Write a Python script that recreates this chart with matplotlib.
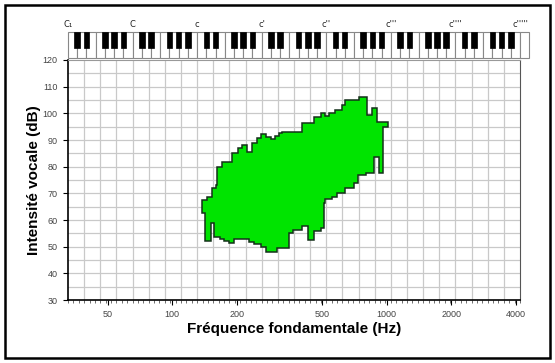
import numpy as np
import matplotlib
matplotlib.use("Agg")
import matplotlib.pyplot as plt
from matplotlib.patches import Rectangle, Polygon
from matplotlib.ticker import FixedLocator, NullFormatter
from matplotlib.transforms import blended_transform_factory

plt.rcParams['font.family'] = ['Liberation Sans', 'DejaVu Sans']

# voice range profile outline (Hz, dB)
freq_hz = [138, 138, 146, 146, 154, 154, 160, 160, 162, 162, 171, 171, 191, 191,
           203, 203, 212, 212, 224, 224, 236, 236, 249, 249, 259, 259, 273, 273,
           288, 288, 301, 301, 315, 315, 326, 326, 404, 404, 458, 458, 492, 492,
           515, 515, 537, 537, 577, 577, 620, 620, 643, 643, 741, 741, 810, 810,
           855, 855, 902, 902, 1014, 1014, 958, 958, 918, 918, 870, 870, 801, 801,
           735, 735, 702, 702, 643, 643, 587, 587, 557, 557, 515, 515, 509, 509,
           492, 492, 458, 458, 431, 431, 404, 404, 365, 365, 350, 350, 309, 309,
           273, 273, 259, 259, 241, 241, 228, 228, 194, 194, 184, 184, 175, 175,
           168, 168, 157, 157, 151, 151, 143, 143]
level_db = [62.5, 67.5, 67.5, 68.7, 68.7, 71.9, 71.9, 73.1, 73.1, 79.8, 79.8, 81.9,
            81.9, 85.0, 85.0, 86.9, 86.9, 88.1, 88.1, 85.6, 85.6, 88.8, 88.8, 90.6,
            90.6, 92.2, 92.2, 91.2, 91.2, 90.3, 90.3, 91.6, 91.6, 92.5, 92.5, 93.1,
            93.1, 96.3, 96.3, 98.7, 98.7, 100.0, 100.0, 99.0, 99.0, 100.2, 100.2,
            101.2, 101.2, 103.1, 103.1, 105.0, 105.0, 106.0, 106.0, 99.4, 99.4,
            101.9, 101.9, 96.9, 96.9, 95.0, 95.0, 77.6, 77.6, 83.7, 83.7, 77.6, 77.6,
            76.9, 76.9, 73.8, 73.8, 71.9, 71.9, 70.2, 70.2, 68.7, 68.7, 67.8, 67.8,
            66.3, 66.3, 56.9, 56.9, 56.0, 56.0, 52.5, 52.5, 57.8, 57.8, 56.2, 56.2,
            55.2, 55.2, 49.4, 49.4, 48.1, 48.1, 49.8, 49.8, 51.0, 51.0, 51.9, 51.9,
            52.8, 52.8, 51.2, 51.2, 52.2, 52.2, 52.8, 52.8, 53.7, 53.7, 58.8, 58.8,
            52.2, 52.2, 62.5]

# keyboard note names (C of each octave) and their frequencies
c_labels = ["C\u2081", "C", "c", "c'", "c''", "c'''", "c''''", "c'''''"]
c_freqs = [32.7, 65.4, 130.8, 261.6, 523.3, 1046.5, 2093.0, 4186.0]

x_ticks = [50, 100, 200, 500, 1000, 2000, 4000]
x_ticklabels = ["50", "100", "200", "500", "1000", "2000", "4000"]
y_ticks = [30, 40, 50, 60, 70, 80, 90, 100, 110, 120]

f0 = c_freqs[0]
n_oct = len(c_freqs) - 1

fig = plt.figure(figsize=(5.55, 3.63), dpi=100)
ax = fig.add_axes([68 / 555, 63 / 363, 452 / 555, 240 / 363])
ax.set_xscale('log')
ax.set_xlim(f0, c_freqs[-1])
ax.set_ylim(30, 120)

# grid: every minor third in x, every 5 dB in y
for k in range(1, 4 * n_oct):
    ax.axvline(f0 * 2 ** (k / 4), color='#c9c9c9', lw=0.9, zorder=0)
for v in range(35, 120, 5):
    ax.axhline(v, color='#c9c9c9', lw=0.9, zorder=0)

ax.add_patch(Polygon(np.column_stack([freq_hz, level_db]), closed=True,
                     facecolor='#00e400', edgecolor='#14301a', lw=1.1, zorder=3))

ax.xaxis.set_major_locator(FixedLocator(x_ticks))
ax.set_xticklabels(x_ticklabels)
ax.xaxis.set_minor_locator(FixedLocator([f0 * 2 ** (k / 12) for k in range(12 * n_oct + 1)]))
ax.xaxis.set_minor_formatter(NullFormatter())
ax.set_yticks(y_ticks)
ax.tick_params(axis='both', which='major', labelsize=6.5, labelcolor='#444444',
               length=3.5, width=0.8, direction='out', pad=4)
ax.tick_params(axis='x', which='minor', length=2, width=0.6, color='#555555')
ax.tick_params(axis='y', which='minor', length=0)

for side in ['left', 'bottom']:
    ax.spines[side].set_linewidth(1.2)
ax.spines['right'].set_color('#555555')
ax.spines['top'].set_color('#999999')
ax.spines['top'].set_linewidth(0.8)

ax.set_xlabel('Fréquence fondamentale (Hz)', fontsize=11, fontweight='bold', labelpad=2)
ax.set_ylabel('Intensité vocale (dB)', fontsize=11, fontweight='bold', labelpad=1)

# piano keyboard above the plot
tr = blended_transform_factory(ax.transData, ax.transAxes)
kb_bot, kb_top, blk_bot = 1.008, 1.118, 1.05
for i in range(7 * n_oct + 1):
    left = f0 * 2 ** (i / 7)
    right = f0 * 2 ** ((i + 1) / 7)
    ax.add_patch(Rectangle((left, kb_bot), right - left, kb_top - kb_bot, transform=tr,
                           facecolor='white', edgecolor='#888888', lw=0.8, clip_on=False))
for o in range(n_oct):
    for j in [1, 2, 4, 5, 6]:
        c = f0 * 2 ** (o + j / 7)
        left = c * 2 ** (-0.3 / 7)
        right = c * 2 ** (0.3 / 7)
        ax.add_patch(Rectangle((left, blk_bot), right - left, kb_top - blk_bot, transform=tr,
                               facecolor='black', edgecolor='black', lw=0.5, clip_on=False,
                               zorder=4))
for lab, f in zip(c_labels, c_freqs):
    ax.text(f, kb_top + 0.01, lab, transform=tr, fontsize=6, ha='center', va='bottom',
            color='#222222', family=['DejaVu Sans'])

# frame around the figure
fig.patches.append(Rectangle((5 / 555, 5 / 363), 545 / 555, 353 / 363, transform=fig.transFigure,
                             fill=False, edgecolor='black', lw=1.8))

fig.savefig('out.png', dpi=100)
